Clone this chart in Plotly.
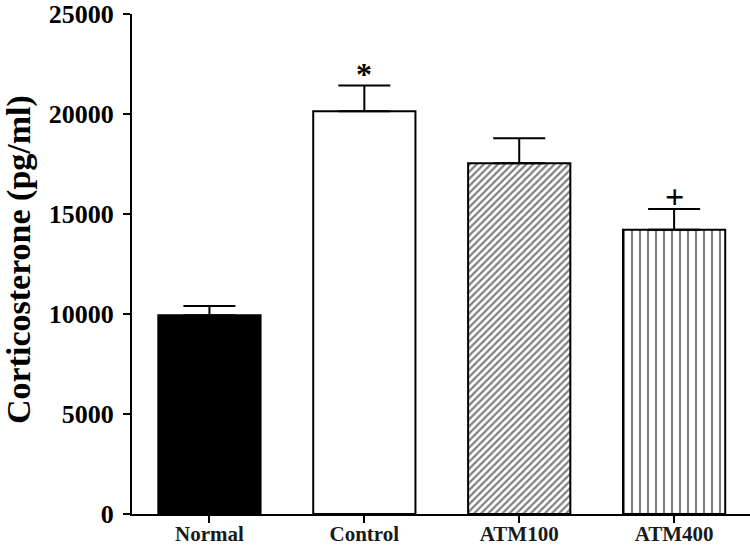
import plotly.graph_objects as go

categories = ["Normal", "Control", "ATM100", "ATM400"]
means = [9940, 20150, 17540, 14220]
sem = [470, 1280, 1250, 1040]
patterns = ["", "", "/", "|"]
pattern_sizes = [0, 0, 5, 8]
pattern_solidity = [0, 0, 0.45, 0.26]
fill_colors = ["black", "white", "white", "white"]
marks = ["", "*", "", "+"]
mark_sizes = [0, 32, 0, 34]
y_ticks = [0, 5000, 10000, 15000, 20000, 25000]

font_family = "Liberation Serif, Times New Roman, serif"

fig = go.Figure()
for c, m, s, p, ps, pso, fc in zip(categories, means, sem, patterns,
                                   pattern_sizes, pattern_solidity, fill_colors):
    marker = dict(color=fc, line=dict(color="black", width=2))
    if p:
        marker["pattern"] = dict(shape=p, fgcolor="black", bgcolor="white",
                                 size=ps, solidity=pso, fillmode="overlay")
    fig.add_trace(go.Bar(
        x=[c], y=[m], width=0.66, marker=marker, name=c,
        error_y=dict(type="data", symmetric=False, array=[s],
                     arrayminus=[0], color="black", thickness=2, width=26),
    ))

for c, m, s, t, fs in zip(categories, means, sem, marks, mark_sizes):
    if t:
        fig.add_annotation(x=c, y=m + s, text=f"<b>{t}</b>", showarrow=False,
                           yanchor="bottom", yshift=-8,
                           font=dict(family=font_family, size=fs, color="black"))

fig.add_annotation(
    text="<b>Corticosterone (pg/ml)</b>", textangle=-90,
    xref="paper", yref="paper", x=0, y=0.5, xanchor="center", yanchor="middle",
    xshift=-113, yshift=4, showarrow=False,
    font=dict(family=font_family, size=34, color="black"),
)

fig.update_layout(
    width=750, height=549,
    margin=dict(l=132, r=0, t=14, b=35),
    paper_bgcolor="white", plot_bgcolor="white",
    showlegend=False,
    barmode="overlay",
)
fig.update_xaxes(
    range=[-0.5, 3.49], automargin=False,
    categoryorder="array", categoryarray=categories,
    showline=True, linecolor="black", linewidth=2,
    ticks="outside", ticklen=7, tickwidth=2, tickcolor="black",
    ticklabelstandoff=-7,
    tickfont=dict(family=font_family, size=21, color="#1a1a1a", weight="bold"),
    showgrid=False, zeroline=False,
)
fig.update_yaxes(
    range=[0, 25010], automargin=False,
    tickvals=y_ticks,
    ticktext=[str(v) for v in y_ticks],
    showline=True, linecolor="black", linewidth=2,
    ticks="outside", ticklen=7, tickwidth=2, tickcolor="black",
    ticklabelstandoff=4, ticklabeloverflow="allow",
    tickfont=dict(family=font_family, size=26, color="black", weight="bold"),
    showgrid=False, zeroline=False,
)

fig.write_html(
    "out.html",
    config={"displayModeBar": False},
    post_script="document.body.style.margin='0';document.body.style.padding='0';",
)
